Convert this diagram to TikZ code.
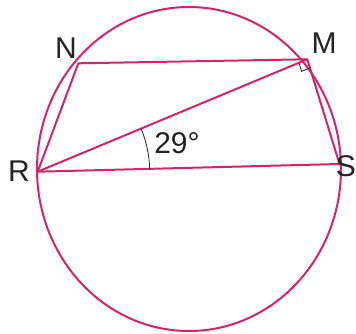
\documentclass[tikz,border=0pt]{standalone}
\usepackage{fontspec}
\setmainfont{Liberation Sans}
\usetikzlibrary{angles,quotes}
\definecolor{rosered}{RGB}{214,36,104}
\definecolor{inkgray}{RGB}{35,35,35}
\tikzset{
  chord/.style={draw=rosered, line width=2pt, line join=round},
  ptlabel/.style={text=inkgray, font=\fontsize{30}{32}\selectfont, inner sep=0pt},
  markline/.style={draw=inkgray, line width=0.8pt}
}
\begin{document}
\begin{tikzpicture}[x=1pt,y=1pt]
\useasboundingbox (0,0) rectangle (356,333);
\fill[white] (0,0) rectangle (356,333);
\coordinate (O) at (189,164);
\coordinate (R) at (37.7,161.3);
\coordinate (S) at (339.5,169);
\coordinate (N) at (78.3,269.7);
\coordinate (M) at (307.3,273.7);
\draw[chord] (O) ellipse [x radius=152, y radius=162];
\draw[chord] (R) -- (N) -- (M) -- (S) -- cycle;
\draw[chord] (R) -- (M);
\pic[markline, angle radius=112pt] {angle = S--R--M};
\pic[markline, angle radius=9pt] {right angle = R--M--S};
\node[ptlabel] (labN) at (66,285.3) {N};
\node[ptlabel] (labM) at (324,290) {M};
\node[ptlabel] (labR) at (19,161.5) {R};
\node[ptlabel, anchor=east] (labS) at (356,167) {S};
\node[ptlabel] (lab29) at (177,190) {29°};
\end{tikzpicture}
\end{document}
